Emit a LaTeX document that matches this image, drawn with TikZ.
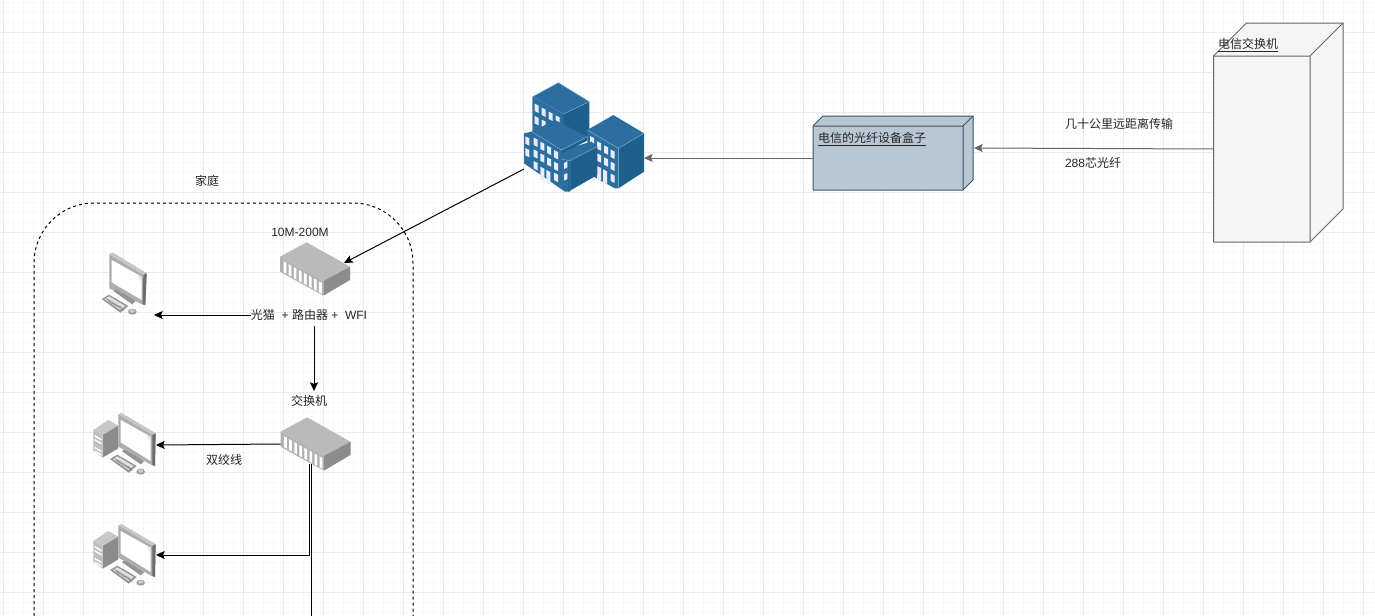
\documentclass[tikz,border=0pt]{standalone}
\usepackage{fontspec}
\setmainfont{Liberation Sans}
\newfontfamily\cjk{Noto Sans CJK SC}
\usetikzlibrary{arrows.meta}
\definecolor{gridminor}{HTML}{F8F8F8}
\definecolor{gridmajor}{HTML}{EBEBEB}
\definecolor{bldtop}{HTML}{2C6E9F}
\definecolor{bldside}{HTML}{1F5F8C}
\definecolor{bldedge}{HTML}{7FB0CF}
\definecolor{boxfill}{HTML}{B8C7D4}
\definecolor{boxedge}{HTML}{3A5568}
\definecolor{cubefill}{HTML}{F5F5F5}
\definecolor{cubeedge}{HTML}{666666}
\tikzset{
  anchorbox/.style={inner sep=0pt,outer sep=0pt,minimum width=#1},
  lbl/.style={inner sep=0pt,outer sep=0pt,font=\fontsize{9pt}{11pt}\selectfont,text=black!85},
  blackarrow/.style={draw=black,line width=.75pt,-{Stealth[length=6.5pt,width=6pt,inset=1.2pt]}},
  grayarrow/.style={draw=cubeedge,line width=.75pt,-{Stealth[length=6.5pt,width=6pt,inset=1.2pt]}},
  zoomunits/.style={x=.25pt,y=-.25pt},
  bedge/.style={draw=bldedge,line width=.3pt,line join=round},
  win/.style={fill=white!92!blue},
}
\newcommand{\bwin}[3][22]{\fill[win] (#2-6,#3-#1/2-3)--(#2+6,#3-#1/2+3)--(#2+6,#3+#1/2+3)--(#2-6,#3+#1/2-3)--cycle;}
\newcommand{\bwinr}[2]{\fill[win] (#1-5,#2-6)--(#1+5,#2-11)--(#1+5,#2+7)--(#1-5,#2+12)--cycle;}
\newcommand{\switchicon}[2]{%
\begin{scope}[shift={(#1,#2)},zoomunits]
  \fill[fill=black!27] (650,52)--(780,125)--(700,168)--(570,95)--cycle;
  \fill[fill=black!45] (700,168)--(780,125)--(780,165)--(700,212)--cycle;
  \fill[fill=black!30] (570,95)--(700,168)--(700,212)--(570,140)--cycle;
  \foreach \i in {0,...,7}{
    \pgfmathsetmacro{\xa}{581+\i*15.2}
    \pgfmathsetmacro{\ya}{109+\i*8.6}
    \fill[white] (\xa,\ya)--(\xa+8,\ya+4.5)--(\xa+8,\ya+37)--(\xa,\ya+32.5)--cycle;
  }
\end{scope}}
% keyboard with hatch, given by its left corner, and mouse
\newcommand{\kbd}[2]{%
\begin{scope}[shift={(#1,#2)}]
  \fill[black!42] (0,0)--(22,-13)--(80,21)--(56,41)--cycle;
  \fill[black!12] (8,0)--(22,-8)--(71,21)--(55,33)--cycle;
  \foreach \k in {0,...,7}{\draw[black!50,line width=.35pt] (13+\k*6,-3+\k*3.5)--(25+\k*6,5+\k*3.5-6+12);}
  \fill[black!38] (92,38) ellipse [x radius=13,y radius=9];
  \fill[black!20] (92,36) ellipse [x radius=8,y radius=5];
\end{scope}}
\newcommand{\pcscreen}{%
  \fill[black!32] (115,88)--(125,85)--(227,145)--(225,243)--(215,240)--(115,185)--cycle;
  \fill[black!22] (115,88)--(125,85)--(227,145)--(217,150)--cycle;
  \fill[black!58] (217,150)--(227,145)--(225,243)--(217,240)--cycle;
  \fill[white] (122,105)--(212,155)--(212,228)--(122,172)--cycle;
  \fill[black!10] (212,155)--(212,175)--(200,150)--cycle;
  \fill[black!42] (125,198)--(135,194)--(192,228)--(182,238)--cycle;
  \kbd{90}{222}
}
\newcommand{\desktopicon}[2]{%
\begin{scope}[shift={(#1,#2)},zoomunits]
  \fill[black!22] (40,135)--(85,105)--(115,122)--(68,150)--cycle;
  \fill[black!45] (68,150)--(115,122)--(115,190)--(68,218)--cycle;
  \fill[black!25] (40,135)--(68,150)--(68,218)--(40,198)--cycle;
  \foreach \y in {150,162,185,196}{\fill[white] (44,\y)--(65,\y+12)--(65,\y+17)--(44,\y+5)--cycle;}
  \pcscreen
\end{scope}}
\begin{document}
\begin{tikzpicture}[x=.75pt,y=-.75pt]
\useasboundingbox (0,0) rectangle (1375,615);
\clip (0,0) rectangle (1375,615);
\fill[white] (0,0) rectangle (1375,615);
% grid
\foreach \g in {3,13,...,1373}{\draw[gridminor,line width=.75pt] (\g,0)--(\g,615);}
\foreach \g in {2,12,...,612}{\draw[gridminor,line width=.75pt] (0,\g)--(1375,\g);}
\foreach \g in {3,43,...,1363}{\draw[gridmajor,line width=.75pt] (\g,0)--(\g,615);}
\foreach \g in {32,72,...,592}{\draw[gridmajor,line width=.75pt] (0,\g)--(1375,\g);}

% home boundary
\draw[black,line width=.75pt,dash pattern=on 2.25pt off 2.25pt,rounded corners=45pt]
  (34,640)--(34,203)--(413,203)--(413,640);

% exchange cube
\draw[cubeedge,fill=cubefill,line width=.75pt,line join=round]
  (1213.5,56)--(1246.5,23)--(1343,23)--(1343,209)--(1310,242)--(1213.5,242)--cycle;
\draw[cubeedge,line width=.75pt] (1213.5,56)--(1310,56)--(1343,23) (1310,56)--(1310,242);
\node[anchorbox=96*.75pt,minimum height=186*.75pt] (cube) at (1262,149) {};
\node[lbl,anchor=west] (cubelabel) at (1218,45) {\cjk\underline{电信交换机}};

% fibre box
\draw[boxedge,fill=boxfill,line width=.75pt,line join=round]
  (813,126)--(823,116)--(973,116)--(973,180)--(963,190)--(813,190)--cycle;
\draw[boxedge,line width=.75pt] (813,126)--(963,126)--(973,116) (963,126)--(963,190);
\node[anchorbox=150*.75pt,minimum height=64*.75pt] (box) at (888,158) {};
\node[anchorbox=11*.75pt,minimum height=64*.75pt] (boxside) at (968.5,148) {};
\node[lbl,anchor=west] (boxlabel) at (818,139) {\cjk\underline{电信的光纤设备盒子}};

% buildings
\begin{scope}[shift={(510,70)},zoomunits]
  \fill[bldside] (68,80)--(160,132)--(238,95)--(238,200)--(68,200)--cycle;
  \fill[bldtop,bedge] (145,38)--(238,95)--(160,132)--(68,80)--cycle;
  \fill[bldtop] (68,80)--(160,132)--(160,200)--(68,200)--cycle;
  \foreach \p/\q in {80/115,101/127,122/139,143/150,80/152,101/163}{\bwin{\p}{\q}}
  \fill[bldtop] (232,180)--(325,235)--(325,355)--(315,355)--(232,310)--cycle;
  \fill[bldside] (325,235)--(402,190)--(402,305)--(325,355)--cycle;
  \fill[bldtop] (310,135)--(402,190)--(325,235)--(232,180)--cycle;
  \draw[bedge] (232,180)--(325,235)--(402,190) (325,235)--(325,350);
  \foreach \p/\q in {246/212,267/228,288/240,308/253,267/264,288/276,308/289,308/325}{\bwin{\p}{\q}}
  \bwin[38]{267}{310}\bwin[38]{285}{320}
  \fill[bldtop] (42,190)--(65,185)--(155,240)--(180,265)--(180,365)--(165,365)--(42,280)--cycle;
  \fill[bldside] (175,272)--(262,230)--(262,315)--(175,365)--cycle;
  \fill[bldtop] (155,240)--(245,215)--(262,230)--(180,270)--cycle;
  \fill[bldside] (155,240)--(232,200)--(232,212)--(155,250)--cycle;
  \fill[bldtop] (135,150)--(232,200)--(155,240)--(65,185)--cycle;
  \draw[bedge] (65,185)--(155,240)--(232,200) (155,268)--(180,272)--(262,230) (180,272)--(180,362);
  \foreach \p/\q in {52/213,52/248,77/217,97/229,117/241,138/254,77/252,97/264,117/276,138/289,77/287,138/322}{\bwin{\p}{\q}}
  \bwin[38]{97}{312}\bwin[38]{115}{322}
  \bwinr{167}{285}\bwinr{167}{320}
\end{scope}
\node[anchorbox=120*.75pt,minimum height=109*.75pt] (bld) at (584,137.5) {};
\coordinate (bldout) at (524,169);

% modem, switch
\switchicon{90}{225}
\node[anchorbox=70*.75pt,minimum height=54*.75pt] (modem) at (315,269) {};
\coordinate (modemin) at (344,263);
\switchicon{90.5}{400}
\node[anchorbox=70*.75pt,minimum height=54*.75pt] (switch) at (315.5,444) {};
\coordinate (swdowna) at (309,464);
\coordinate (swdownb) at (311,464);
\coordinate (swdownend) at (311,620);

% screen only PC
\begin{scope}[shift={(90,225)},zoomunits]
  \fill[black!32] (58,88)--(68,83)--(170,145)--(166,240)--(156,238)--(58,190)--cycle;
  \fill[black!22] (58,88)--(68,83)--(170,145)--(160,150)--cycle;
  \fill[black!58] (160,150)--(170,145)--(166,240)--(158,238)--cycle;
  \fill[white] (65,105)--(155,155)--(155,225)--(65,172)--cycle;
  \fill[black!10] (155,155)--(155,175)--(143,150)--cycle;
  \fill[black!42] (70,198)--(80,194)--(137,228)--(127,238)--cycle;
  \kbd{35}{222}
\end{scope}
\node[anchorbox=49*.75pt,minimum height=60*.75pt] (pca) at (129,285) {};
\coordinate (pcain) at (154,315);

\desktopicon{80}{385}
\desktopicon{80}{496}
\node[anchorbox=63*.75pt,minimum height=60*.75pt] (pcb) at (124.5,445) {};
\node[anchorbox=63*.75pt,minimum height=60*.75pt] (pcc) at (124.5,555) {};

% labels
\node[lbl] (wan) at (207,180.5) {\cjk 家庭};
\node[lbl] (speed) at (300,232) {10M-200M};
\node[lbl] (wifi) at (309,315) {{\cjk 光猫}\ \ + {\cjk 路由器} +\ \ WFI};
\node[lbl] (swname) at (309,400.5) {\cjk 交换机};
\node[lbl] (twist) at (224,460) {\cjk 双绞线};
\node[lbl,anchor=west] (dist) at (1065,123.5) {\cjk 几十公里远距离传输};
\node[lbl,anchor=west] (core) at (1065,162.5) {288{\cjk 芯光纤}};
\coordinate (wifidown) at (314,326);
\coordinate (swin) at (314,391);

% connectors
\draw[grayarrow] (cube.west) -- (boxside.east);
\draw[grayarrow] (box.west) -- (bld.east |- box.west);
\draw[blackarrow] (bldout) -- (modemin);
\draw[blackarrow] (wifi.west) -- (pcain);
\draw[blackarrow] (wifidown) -- (swin);
\draw[blackarrow] (switch.west) -- (pcb.east);
\draw[blackarrow] (swdowna) |- (pcc.east);
\draw[black,line width=.75pt] (swdownb) -- (swdownend);
\end{tikzpicture}
\end{document}
